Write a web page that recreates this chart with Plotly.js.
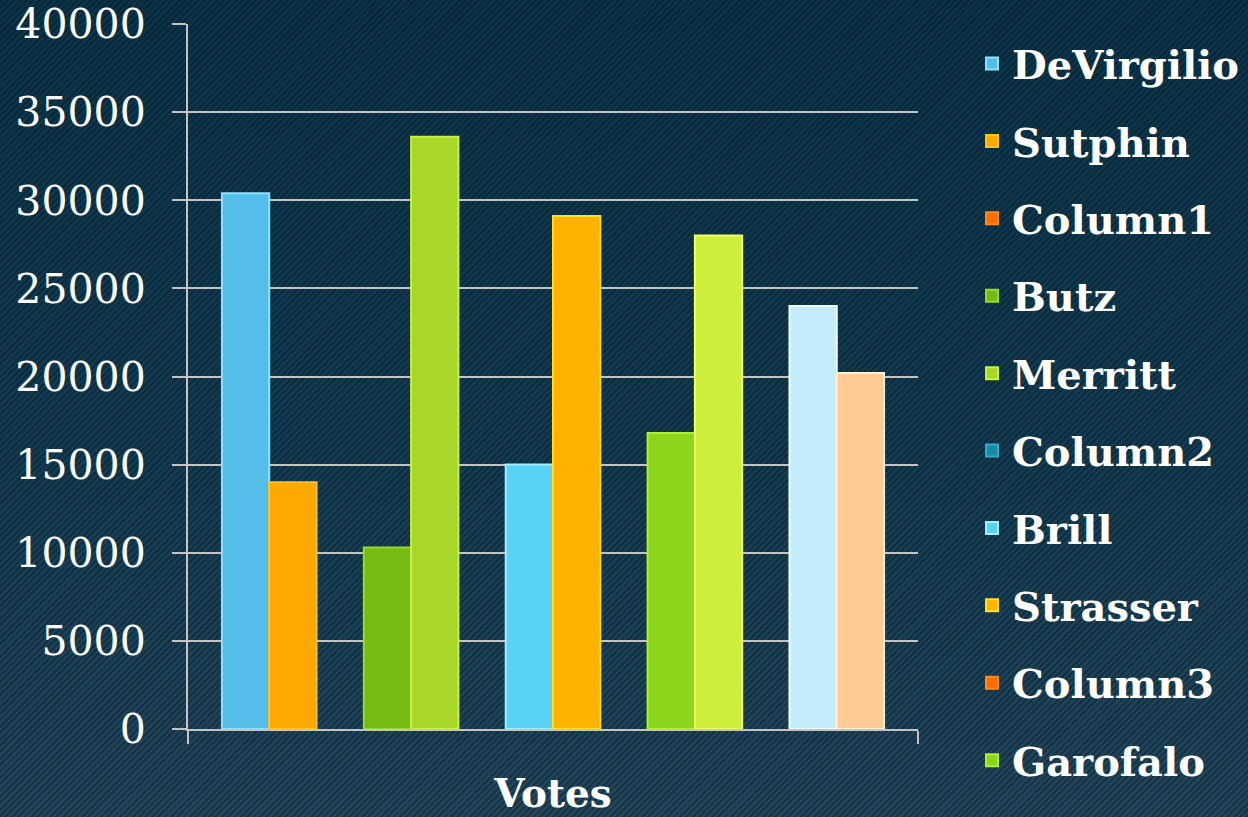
<!DOCTYPE html>
<html>
<head>
<meta charset="utf-8">
<script src="https://cdn.plot.ly/plotly-3.0.1.min.js"></script>
<style>
  html, body { margin: 0; padding: 0; }
  body {
    width: 1248px; height: 817px; overflow: hidden;
    background:
      repeating-linear-gradient(135deg, rgba(0,10,20,0.32) 0px, rgba(0,10,20,0.32) 2px, rgba(0,0,0,0) 2px, rgba(0,0,0,0) 4.5px),
      linear-gradient(to bottom, #0b3449 0%, #133c52 55%, #22465b 100%);
  }
  #chart { width: 1248px; height: 817px; }
</style>
</head>
<body>
<div id="chart"></div>
<script>
// Data
const categories = ['Votes'];
const seriesNames = ['DeVirgilio', 'Sutphin', 'Column1', 'Butz', 'Merritt', 'Column2',
                     'Brill', 'Strasser', 'Column3', 'Garofalo', 'Series11', 'Column4',
                     'Series13', 'Series14'];
const seriesValues = [30400, 14000, null, 10300, 33600, null,
                      15000, 29100, null, 16800, 28000, null,
                      24000, 20200];
const yTickValues = [0, 5000, 10000, 15000, 20000, 25000, 30000, 35000, 40000];
const yTickLabels = ['0', '5000', '10000', '15000', '20000', '25000', '30000', '35000', '40000'];
const legendVisibleCount = 10;

// Styles
const fillColors = ['#55bde9', '#ffa900', '#ff6d00', '#74bb14', '#a9d62b', '#168aa8',
                    '#5ad2f6', '#ffb300', '#ff6a00', '#8bd51c', '#cdee3c', '#1a8fb0',
                    '#c4edfb', '#ffcb94'];
const lineColors = ['#8fe0ff', '#ffc322', '#ff8a20', '#95dc2a', '#c9f143', '#3aa8c6',
                    '#9eefff', '#ffdf28', '#ff8a20', '#aef034', '#f2ff62', '#3aa8c6',
                    '#f4fdff', '#fff0d6'];
const font = '"DejaVu Serif", "Liberation Serif", serif';

const traces = seriesNames.map((name, i) => ({
  type: 'bar',
  name: name,
  x: categories,
  y: [seriesValues[i]],
  legendgroup: 'g' + i,
  showlegend: i < legendVisibleCount,
  marker: { color: fillColors[i], line: { color: lineColors[i], width: 2 } },
  hoverinfo: 'name+y'
}));

const layout = {
  width: 1248, height: 817,
  paper_bgcolor: 'rgba(0,0,0,0)',
  plot_bgcolor: 'rgba(0,0,0,0)',
  margin: { l: 188, r: 330, t: 24, b: 88, autoexpand: false },
  barmode: 'group',
  bargap: 0.093,
  bargroupgap: 0,
  font: { family: font, color: '#ffffff', size: 36 },
  xaxis: {
    type: 'category',
    tickson: 'boundaries',
    range: [-0.5, 0.5],
    showgrid: false,
    showline: true, linecolor: '#c4c4c4', linewidth: 2,
    ticks: 'outside', ticklen: 13, tickwidth: 2, tickcolor: '#c4c4c4',
    tickfont: { family: font, size: 39, color: '#ffffff', weight: 'bold' },
    ticklabelstandoff: 29,
    zeroline: false, fixedrange: true
  },
  yaxis: {
    range: [0, 40000],
    tickvals: yTickValues, ticktext: yTickLabels,
    showgrid: true, gridcolor: '#c4c4c4', gridwidth: 2,
    showline: true, linecolor: '#c4c4c4', linewidth: 2,
    ticks: 'outside', ticklen: 14, tickwidth: 2, tickcolor: '#c4c4c4',
    tickfont: { family: font, size: 41, color: '#ffffff' },
    ticklabelstandoff: 18,
    zeroline: false, fixedrange: true
  },
  legend: {
    x: 1.074, xanchor: 'left', y: 0.99, yanchor: 'top',
    traceorder: 'grouped', tracegroupgap: 22.4,
    maxheight: 1000,
    font: { family: font, size: 40, color: '#ffffff', weight: 'bold' },
    bgcolor: 'rgba(0,0,0,0)', borderwidth: 0
  },
  showlegend: true
};

Plotly.newPlot('chart', traces, layout, { displayModeBar: false, staticPlot: true });
</script>
</body>
</html>
